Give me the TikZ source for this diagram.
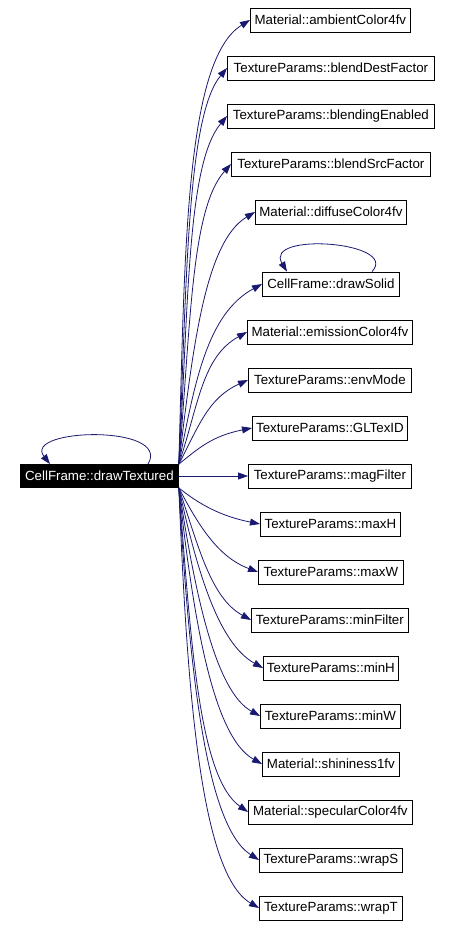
\documentclass[tikz,border=0pt]{standalone}
\usepackage{fontspec}
\setsansfont{Liberation Sans}
\usetikzlibrary{arrows.meta,calc}
\definecolor{edgeBlue}{RGB}{25,25,112}

\begin{document}
\begin{tikzpicture}[
    x=1pt, y=-1pt,
    font=\sffamily\fontsize{13.3}{15}\selectfont,
    funcNode/.style={
        rectangle, draw=black, fill=white, line width=0.8pt,
        minimum height=24pt, inner sep=0pt, anchor=west
    },
    rootNode/.style={
        rectangle, draw=black, fill=black, text=white, line width=0.8pt,
        minimum height=23pt, minimum width=158pt, inner sep=0pt, anchor=west
    },
    callArrow/.style={
        -{Triangle[length=10pt, width=7pt]}, line width=0.8pt, draw=edgeBlue
    }
]
\useasboundingbox[fill=white] (0,0) rectangle (451,926);

% Caller
\node[rootNode] (drawTex) at (20,476) {CellFrame::drawTextured};

% Callees (top to bottom)
\node[funcNode, minimum width=160pt] (ambient) at (250,20) {Material::ambientColor4fv};
\node[funcNode, minimum width=207pt] (blendDest) at (227,68) {TextureParams::blendDestFactor};
\node[funcNode, minimum width=207pt] (blendEn) at (227,116) {TextureParams::blendingEnabled};
\node[funcNode, minimum width=199pt] (blendSrc) at (231,164) {TextureParams::blendSrcFactor};
\node[funcNode, minimum width=151pt] (diffuse) at (255,212) {Material::diffuseColor4fv};
\node[funcNode, minimum width=137pt] (drawSolid) at (262,284) {CellFrame::drawSolid};
\node[funcNode, minimum width=165pt] (emission) at (247,332) {Material::emissionColor4fv};
\node[funcNode, minimum width=163pt] (envMode) at (248,380) {TextureParams::envMode};
\node[funcNode, minimum width=155pt] (texID) at (252,428) {TextureParams::GLTexID};
\node[funcNode, minimum width=163pt] (magFilter) at (248,476) {TextureParams::magFilter};
\node[funcNode, minimum width=140pt] (maxH) at (260,524) {TextureParams::maxH};
\node[funcNode, minimum width=145pt] (maxW) at (258,572) {TextureParams::maxW};
\node[funcNode, minimum width=157pt] (minFilter) at (251,620) {TextureParams::minFilter};
\node[funcNode, minimum width=135pt] (minH) at (263,668) {TextureParams::minH};
\node[funcNode, minimum width=140pt] (minW) at (260,716) {TextureParams::minW};
\node[funcNode, minimum width=137pt] (shininess) at (262,764) {Material::shininess1fv};
\node[funcNode, minimum width=164pt] (specular) at (248,812) {Material::specularColor4fv};
\node[funcNode, minimum width=143pt] (wrapS) at (259,860) {TextureParams::wrapS};
\node[funcNode, minimum width=143pt] (wrapT) at (259,908) {TextureParams::wrapT};

% Self calls
\draw[callArrow] ($(drawTex.north west)+(128,0)$) .. controls +(24,-40) and +(-28,-36) .. ($(drawTex.north west)+(30,0)$);
\draw[callArrow] ($(drawSolid.north west)+(110,0)$) .. controls +(28,-30) and +(-24,-40) .. ($(drawSolid.north west)+(25,0)$);

% Calls upwards
\draw[callArrow] (drawTex.north east) .. controls +(6,-210) and +(-65,40) .. (ambient.west);
\draw[callArrow] (drawTex.north east) .. controls +(8,-185) and +(-40,48) .. (blendDest.west);
\draw[callArrow] (drawTex.north east) .. controls +(10,-162) and +(-40,48) .. (blendEn.west);
\draw[callArrow] (drawTex.north east) .. controls +(12,-140) and +(-40,45) .. (blendSrc.west);
\draw[callArrow] (drawTex.north east) .. controls +(14,-116) and +(-50,30) .. (diffuse.west);
\draw[callArrow] (drawTex.north east) .. controls +(16,-82) and +(-55,30) .. (drawSolid.west);
\draw[callArrow] (drawTex.north east) .. controls +(20,-60) and +(-45,25) .. (emission.west);
\draw[callArrow] (drawTex.north east) .. controls +(20,-38) and +(-40,18) .. (envMode.west);
\draw[callArrow] (drawTex.north east) .. controls +(20,-16) and +(-40,8) .. (texID.west);

% Straight call
\draw[callArrow] (drawTex.east) -- (magFilter.west);

% Calls downwards
\draw[callArrow] (drawTex.south east) .. controls +(20,16) and +(-40,-8) .. (maxH.west);
\draw[callArrow] (drawTex.south east) .. controls +(20,38) and +(-40,-15) .. (maxW.west);
\draw[callArrow] (drawTex.south east) .. controls +(20,60) and +(-40,-22) .. (minFilter.west);
\draw[callArrow] (drawTex.south east) .. controls +(18,82) and +(-45,-25) .. (minH.west);
\draw[callArrow] (drawTex.south east) .. controls +(16,104) and +(-45,-25) .. (minW.west);
\draw[callArrow] (drawTex.south east) .. controls +(14,126) and +(-50,-28) .. (shininess.west);
\draw[callArrow] (drawTex.south east) .. controls +(12,148) and +(-50,-35) .. (specular.west);
\draw[callArrow] (drawTex.south east) .. controls +(10,170) and +(-55,-35) .. (wrapS.west);
\draw[callArrow] (drawTex.south east) .. controls +(8,192) and +(-60,-35) .. (wrapT.west);

\end{tikzpicture}
\end{document}
